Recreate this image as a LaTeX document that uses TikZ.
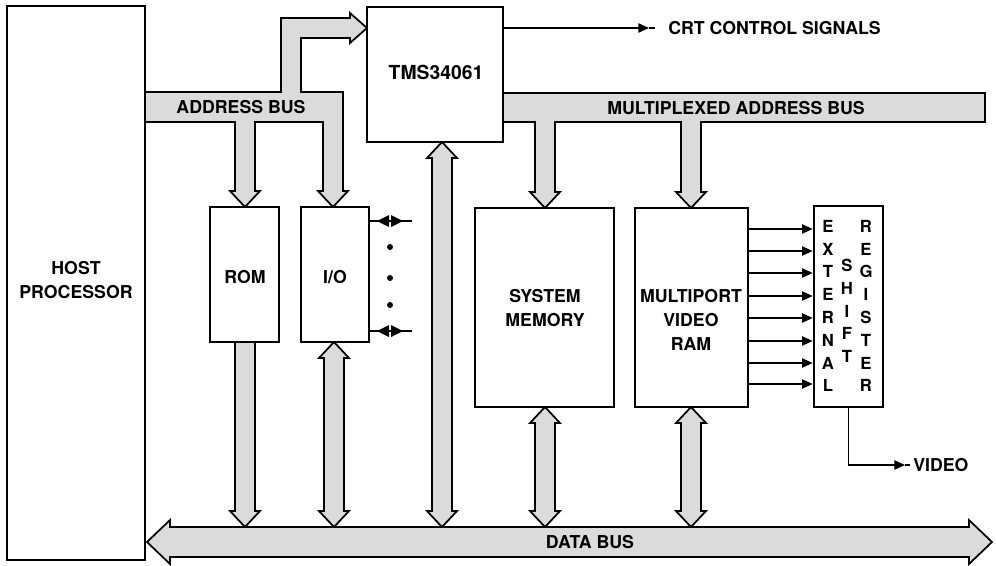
\documentclass[tikz,border=0pt]{standalone}
\usepackage{fontspec}
\setmainfont{TeX Gyre Heros}
\usetikzlibrary{arrows.meta,fit}
\newcommand{\dbusv}[3]{%
  \filldraw[bus] (#1,#2) -- ({#1+15},{#2+16}) -- ({#1+10},{#2+16}) -- ({#1+10},{#3-16}) -- ({#1+15},{#3-16}) -- (#1,#3) -- ({#1-15},{#3-16}) -- ({#1-10},{#3-16}) -- ({#1-10},{#2+16}) -- ({#1-15},{#2+16}) -- cycle;}
\newcommand{\sbusv}[3]{%
  \filldraw[bus] ({#1-10},#2) -- ({#1+10},#2) -- ({#1+10},{#3-16}) -- ({#1+15},{#3-16}) -- (#1,#3) -- ({#1-15},{#3-16}) -- ({#1-10},{#3-16}) -- cycle;}
\begin{document}
\begin{tikzpicture}[x=0.75pt,y=-0.75pt,
  box/.style={draw, line width=2pt, fill=white, inner sep=0pt},
  lbl/.style={font=\fontsize{13.3}{18}\selectfont\bfseries, align=center, inner sep=0pt},
  srl/.style={font=\fontsize{12.5}{17.1}\selectfont\bfseries, align=center, inner sep=0pt},
  bus/.style={draw, line width=1.3pt, fill=black!14, line join=miter},
  thinline/.style={line width=1pt},
  sig/.style={line width=1pt, -{Triangle[length=8pt,width=7pt]}},
  ]
\useasboundingbox (0,0) rectangle (996,565);

% ---- address bus ----
\filldraw[bus] (145,92) -- (281,92) -- (281,18) -- (350,18) -- (350,13) -- (367,28) -- (350,43) -- (350,38) -- (301,38) -- (301,92) -- (343,92) -- (343,191) -- (348,191) -- (333,207) -- (318,191) -- (323,191) -- (323,122) -- (255,122) -- (255,191) -- (260,191) -- (245,207) -- (230,191) -- (235,191) -- (235,122) -- (145,122);

% ---- multiplexed address bus ----
\filldraw[bus] (503,93) -- (985,93) -- (985,122) -- (701,122) -- (701,192) -- (706,192) -- (691,208) -- (676,192) -- (681,192) -- (681,122) -- (555,122) -- (555,192) -- (560,192) -- (545,208) -- (530,192) -- (535,192) -- (535,122) -- (503,122);

% ---- vertical data connections ----
\sbusv{245}{342}{527}
\dbusv{334}{342}{527}
\dbusv{442}{142}{527}
\dbusv{545}{407}{527}
\dbusv{691}{407}{527}

% ---- data bus ----
\filldraw[bus] (147,542) -- (170,520) -- (170,527) -- (969,527) -- (969,520) -- (992,542) -- (969,564) -- (969,557) -- (170,557) -- (170,564) -- cycle;

% ---- boxes ----
\node[box, fit={(7,6) (145,560)}] (host) {};
\node[box, fit={(367,7) (503,142)}] (tms) {};
\node[box, fit={(210,207) (279,342)}] (rom) {};
\node[box, fit={(301,207) (369,342)}] (io) {};
\node[box, fit={(475,208) (614,407)}] (sysmem) {};
\node[box, fit={(635,208) (748,407)}] (vram) {};
\node[box, fit={(814,206) (883,407)}] (sr) {};

% ---- labels ----
\node[lbl] (hostl) at (76,280) {HOST\\PROCESSOR};
\node[lbl, font=\fontsize{14.5}{18}\selectfont\bfseries] (tmsl) at (436,72) {TMS34061};
\node[lbl] (roml) at (245,277) {ROM};
\node[lbl] (iol) at (335,277) {I/O};
\node[lbl] (sysmeml) at (545,308) {SYSTEM\\MEMORY};
\node[lbl] (vraml) at (691,320) {MULTIPORT\\VIDEO\\RAM};
\node[lbl] (abus) at (241,107) {ADDRESS BUS};
\node[lbl] (mbus) at (736,108) {MULTIPLEXED ADDRESS BUS};
\node[lbl] (dbus) at (590,542) {DATA BUS};
\node[srl] (sr1) at (828,306) {E\\X\\T\\E\\R\\N\\A\\L};
\node[srl] (sr2) at (847,311) {S\\H\\I\\F\\T};
\node[srl] (sr3) at (866,306) {R\\E\\G\\I\\S\\T\\E\\R};
\node[lbl, anchor=west] (crt) at (668,28) {CRT CONTROL SIGNALS};
\node[lbl, anchor=west] (video) at (913,465) {VIDEO};

% ---- signals ----
\coordinate (crttip) at (649,28);
\draw[sig] (tms.east |- crttip) -- (crttip);
\draw[thinline] (crttip) -- ++(6,0);
\coordinate (vidtip) at (905,465);
\draw[sig] (sr.south) |- (vidtip);
\draw[thinline] (vidtip) -- ++(5,0);

\foreach \yy in {229,251,273,296,318,341,363,384}
  \draw[sig] (vram.east |- 0,\yy) -- (sr.west |- 0,\yy);

% I/O side lines
\foreach \yy in {221,331}{
  \draw[thinline] (io.east |- 0,\yy) -- (412,\yy);
  \fill (377,\yy) -- (389,{\yy-6}) -- (389,{\yy+6}) -- cycle;
  \fill (403,\yy) -- (391,{\yy-6}) -- (391,{\yy+6}) -- cycle;
}
\fill (390,247) circle (3);
\fill (390,278) circle (3);
\fill (390,305) circle (3);
\end{tikzpicture}
\end{document}
